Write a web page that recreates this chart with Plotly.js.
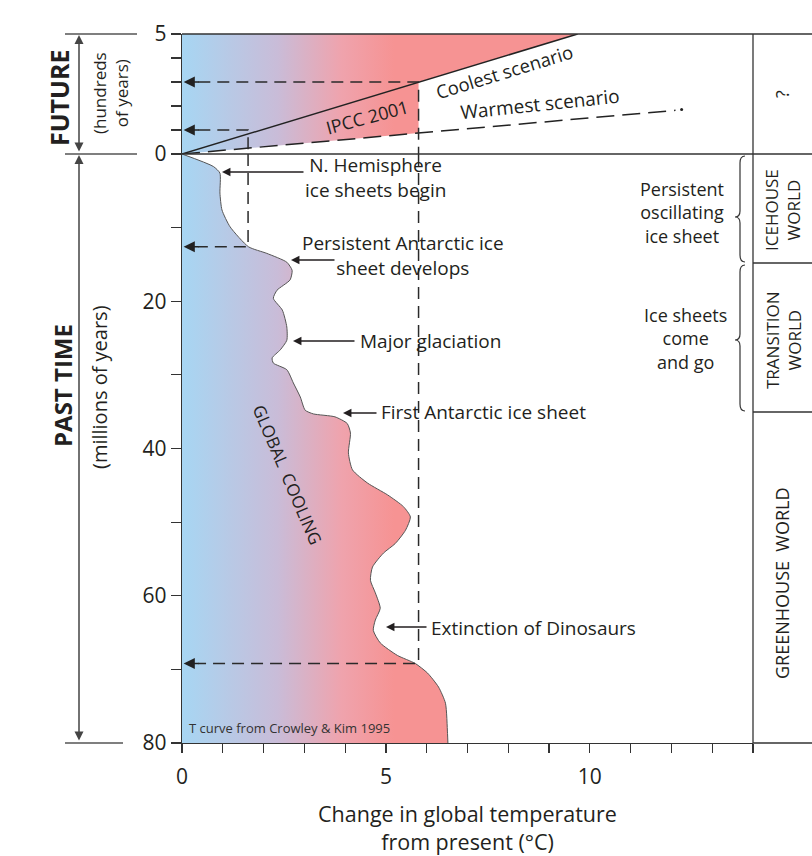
<!DOCTYPE html>
<html>
<head>
<meta charset="utf-8">
<script src="https://cdn.plot.ly/plotly-3.0.1.min.js"></script>
<style>html,body{margin:0;padding:0;background:#fff;}#chart{width:812px;height:856px;}</style>
</head>
<body>
<div id="chart"></div>
<script>
// ---- Data ----
// Past temperature curve (Crowley & Kim 1995): age (Myr ago) and temperature change (°C)
const pastAge  = [0, 1.7, 2.6, 5.3, 7.6, 9.9, 12.6, 13.5, 14.7, 15.8, 17.1, 18.5, 19.6, 21.2, 23.5, 25.3, 26.6, 27.7, 28.4, 29.3, 31.1, 33.0, 34.8, 35.3, 35.7, 36.6, 37.9, 40.6, 42.9, 44.7, 46.3, 47.9, 49.3, 51.1, 52.9, 54.2, 56.1, 57.9, 59.6, 61.7, 63.3, 64.7, 66.4, 68.1, 69.2, 70.5, 72.4, 74.6, 78.7, 80];
const pastTemp = [0, 0.77, 0.93, 0.93, 0.98, 1.18, 1.63, 2.08, 2.57, 2.70, 2.65, 2.33, 2.24, 2.46, 2.57, 2.57, 2.41, 2.21, 2.24, 2.57, 2.73, 2.90, 3.02, 3.22, 3.75, 4.05, 4.13, 4.08, 4.18, 4.55, 5.04, 5.43, 5.60, 5.48, 5.23, 4.94, 4.67, 4.62, 4.74, 4.86, 4.74, 4.69, 4.86, 5.28, 5.72, 6.02, 6.29, 6.46, 6.51, 6.52];

// Future scenarios (hundreds of years ahead)
const coolestTemp = [0, 9.7];
const coolestTime = [0, 5];
const warmestTemp = [0, 12.1];
const warmestTime = [0, 1.82];
// Shaded future region (above coolest line plus IPCC 2001 wedge)
const futureFillTemp = [0, 5.8, 5.8, 9.7, 0, 0];
const futureFillTime = [0, 0.87, 3, 5, 5, 0];

// Dashed comparison guides
const guideHighTemp = 5.8, guideHighFuture = 3, guideHighPast = 69.2;
const guideLowTemp = 1.62, guideLowFuture = 1, guideLowPast = 12.6;

// Tick labels
const xTickVals = [0, 5, 10];
const pastTickVals = [0, 10, 20, 30, 40, 50, 60, 70, 80];
const pastTickText = ['0', '', '20', '', '40', '', '60', '', '80'];
const futureTickVals = [0, 1, 2, 3, 4, 5];
const futureTickText = ['', '', '', '', '', '5'];

// ---- Geometry helpers (pixel -> paper) ----
const W = 812, H = 856, L = 182, R = 59, T = 34, B = 113;
const PW = W - L - R, PH = H - T - B;
const px = x => (x - L) / PW;
const py = y => (H - B - y) / PH;
const splitDom = 589 / 709;

const INK = '#231f20';
const FONT = 'Open Sans, Liberation Sans, sans-serif';
const grad = {type: 'horizontal', start: 0, stop: 5.2,
  colorscale: [[0, '#a7d6f3'], [0.45, '#c9bcd8'], [0.75, '#efa3ad'], [1, '#f69393']]};

const traces = [
  {x: pastTemp, y: pastAge, xaxis: 'x', yaxis: 'y', mode: 'lines', fill: 'tozerox',
   fillgradient: grad, line: {color: '#555', width: 1, shape: 'spline', smoothing: 0.6}, hoverinfo: 'skip'},
  {x: futureFillTemp, y: futureFillTime, xaxis: 'x', yaxis: 'y2', mode: 'none', fill: 'toself',
   fillgradient: grad, hoverinfo: 'skip'},
  {x: coolestTemp, y: coolestTime, xaxis: 'x', yaxis: 'y2', mode: 'lines',
   line: {color: '#222', width: 1.5}, hoverinfo: 'skip'},
  {x: warmestTemp, y: warmestTime, xaxis: 'x', yaxis: 'y2', mode: 'lines',
   line: {color: '#222', width: 1.5, dash: '18px,8px'}, hoverinfo: 'skip'},
  {x: [warmestTemp[1] + 0.15], y: [warmestTime[1] + 0.03], xaxis: 'x', yaxis: 'y2', mode: 'markers',
   marker: {color: '#222', size: 3}, hoverinfo: 'skip'},
  // high guide
  {x: [0.4, guideHighTemp, guideHighTemp], y: [guideHighFuture, guideHighFuture, 0], xaxis: 'x', yaxis: 'y2', mode: 'lines',
   line: {color: '#2a2a2a', width: 1.5, dash: '12px,7px'}, hoverinfo: 'skip'},
  {x: [guideHighTemp, guideHighTemp, 0.4], y: [0, guideHighPast, guideHighPast], xaxis: 'x', yaxis: 'y', mode: 'lines',
   line: {color: '#2a2a2a', width: 1.5, dash: '12px,7px'}, hoverinfo: 'skip'},
  // low guide
  {x: [0.4, guideLowTemp, guideLowTemp], y: [guideLowFuture, guideLowFuture, 0], xaxis: 'x', yaxis: 'y2', mode: 'lines',
   line: {color: '#2a2a2a', width: 1.5, dash: '12px,7px'}, hoverinfo: 'skip'},
  {x: [guideLowTemp, guideLowTemp, 0.4], y: [0, guideLowPast, guideLowPast], xaxis: 'x', yaxis: 'y', mode: 'lines',
   line: {color: '#2a2a2a', width: 1.5, dash: '12px,7px'}, hoverinfo: 'skip'}
];

function txt(text, x, y, size, opts) {
  return Object.assign({text: text, xref: 'paper', yref: 'paper', x: px(x), y: py(y), showarrow: false,
    xanchor: 'center', yanchor: 'middle', font: {family: FONT, size: size, color: INK}}, opts || {});
}
function arrowP(hx, tx, y) {
  return {text: '', xref: 'paper', yref: 'paper', x: px(hx), y: py(y), ax: tx - hx, ay: 0,
    showarrow: true, arrowhead: 2, arrowsize: 1.3, arrowwidth: 1.3, arrowcolor: INK};
}
function dashArrow(yval, yref) {
  return {text: '', xref: 'x', yref: yref, x: 0.04, y: yval, axref: 'x', ayref: yref, ax: 0.45, ay: yval,
    showarrow: true, arrowhead: 2, arrowsize: 1.4, arrowwidth: 1.6, arrowcolor: '#222'};
}
function dblArrow(x, y0, y1) {
  return {text: '', xref: 'paper', yref: 'paper', x: px(x), y: py(y0), ax: 0, ay: y1 - y0,
    showarrow: true, arrowhead: 2, startarrowhead: 2, arrowside: 'end+start', arrowsize: 1.2,
    startarrowsize: 1.2, arrowwidth: 1.5, arrowcolor: '#444'};
}

const annotations = [
  txt('<b>FUTURE</b>', 59, 98, 25, {textangle: -90}),
  txt('(hundreds<br>of years)', 111, 93, 17, {textangle: -90}),
  txt('<b>PAST TIME</b>', 62, 386, 24, {textangle: -90}),
  txt('(millions of years)', 99, 387, 20, {textangle: -90}),
  dblArrow(79, 35, 153),
  dblArrow(79, 155, 742),
  txt('N. Hemisphere<br>ice sheets begin', 375, 177, 19),
  arrowP(222, 305, 172),
  txt('Persistent Antarctic ice<br>sheet develops', 403, 256, 19),
  arrowP(291, 336, 260),
  txt('Major glaciation', 358, 341, 19, {xanchor: 'left'}),
  arrowP(293, 356, 341),
  txt('First Antarctic ice sheet', 379, 412, 19, {xanchor: 'left'}),
  arrowP(343, 378, 413),
  txt('Extinction of Dinosaurs', 429, 628, 19, {xanchor: 'left'}),
  arrowP(386, 428, 627),
  txt('Coolest scenario', 504, 71, 18.5, {textangle: -17}),
  txt('Warmest scenario', 540, 104, 19, {textangle: -6}),
  txt('IPCC 2001', 367, 117, 18, {textangle: -15}),
  txt('GLOBAL  COOLING', 287, 475, 17, {textangle: 67}),
  txt('T curve from Crowley &amp; Kim 1995', 289, 728, 13, {font: {family: 'Liberation Sans Narrow, Open Sans, sans-serif', size: 13, color: '#333'}}),
  txt('Persistent<br>oscillating<br>ice sheet', 682, 212, 18),
  txt('Ice sheets<br>come<br>and go', 685, 338, 18),
  txt('?', 782, 94, 18, {textangle: -90}),
  txt('ICEHOUSE<br>WORLD', 783, 210, 17, {textangle: -90}),
  txt('TRANSITION<br>WORLD', 783, 340, 17, {textangle: -90}),
  txt('GREENHOUSE  WORLD', 782, 583, 18, {textangle: -90}),
  dashArrow(guideHighFuture, 'y2'),
  dashArrow(guideLowFuture, 'y2'),
  dashArrow(guideLowPast, 'y'),
  dashArrow(guideHighPast, 'y')
];

function hline(x0, x1, y, color, width) {
  return {type: 'line', xref: 'paper', yref: 'paper', x0: px(x0), x1: px(x1), y0: py(y), y1: py(y),
    line: {color: color || '#333', width: width || 1.3}};
}
function vline(x, y0, y1) {
  return {type: 'line', xref: 'paper', yref: 'paper', x0: px(x), x1: px(x), y0: py(y0), y1: py(y1),
    line: {color: '#333', width: 1.3}};
}
function brace(xs, y0, y1, ym) {
  const P = (x, y) => px(x).toFixed(5) + ',' + py(y).toFixed(5);
  const d = 'M' + P(xs + 5, y0) + ' Q' + P(xs, y0) + ' ' + P(xs, y0 + 7) +
    ' L' + P(xs, ym - 6) + ' Q' + P(xs, ym) + ' ' + P(xs - 5, ym) +
    ' Q' + P(xs, ym) + ' ' + P(xs, ym + 6) +
    ' L' + P(xs, y1 - 7) + ' Q' + P(xs, y1) + ' ' + P(xs + 5, y1);
  return {type: 'path', xref: 'paper', yref: 'paper', path: d, line: {color: '#333', width: 1.2}};
}

const shapes = [
  hline(182, 812, 34),
  hline(65, 137, 34, '#555'),
  hline(65, 137, 154, '#555'),
  hline(182, 812, 154),
  hline(65, 123, 743, '#555'),
  hline(753, 812, 743),
  hline(753, 812, 263),
  hline(753, 812, 412),
  vline(753, 34, 743),
  brace(740, 156, 262, 217),
  brace(740, 265, 411, 340)
];

const axisBase = {showgrid: false, zeroline: false, showline: true, linecolor: '#333', linewidth: 1.3,
  ticks: 'outside', tickcolor: '#333', tickwidth: 1.2, tickfont: {family: FONT, size: 21, color: INK}};

const layout = {
  width: W, height: H, margin: {l: L, r: R, t: T, b: B},
  paper_bgcolor: '#fff', plot_bgcolor: 'rgba(0,0,0,0)', showlegend: false,
  font: {family: FONT, color: INK},
  xaxis: Object.assign({}, axisBase, {range: [0, 14], tickvals: xTickVals, ticklen: 9, anchor: 'y',
    ticklabelstandoff: 5,
    minor: {dtick: 1, tick0: 0, ticks: 'outside', ticklen: 9, tickcolor: '#333', tickwidth: 1.2, showgrid: false},
    title: {text: 'Change in global temperature<br>from present (°C)', standoff: 19,
      font: {family: FONT, size: 21.5, color: INK}}}),
  yaxis: Object.assign({}, axisBase, {domain: [0, splitDom], range: [80, 0], tickvals: pastTickVals,
    ticktext: pastTickText, ticklen: 10, anchor: 'x'}),
  yaxis2: Object.assign({}, axisBase, {domain: [splitDom, 1], range: [0, 5], tickvals: futureTickVals,
    ticktext: futureTickText, ticklen: 10, anchor: 'x'}),
  annotations: annotations,
  shapes: shapes
};

Plotly.newPlot('chart', traces, layout, {displayModeBar: false, staticPlot: true});
</script>
</body>
</html>
